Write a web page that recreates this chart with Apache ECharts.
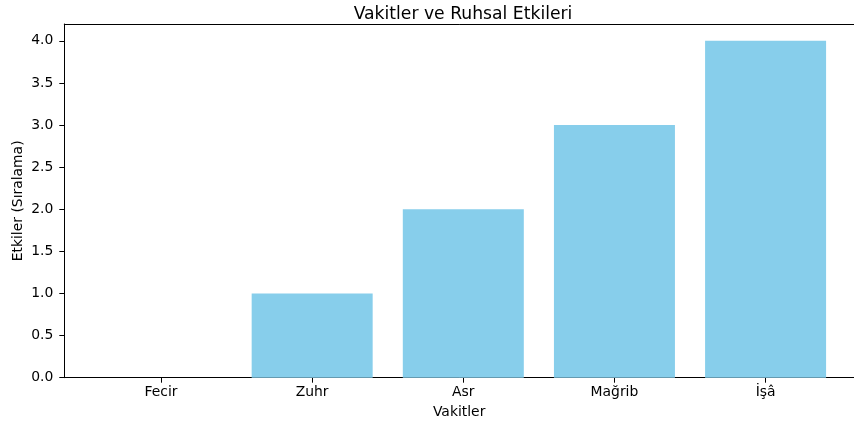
<!DOCTYPE html>
<html>
<head>
<meta charset="utf-8">
<script src="https://cdn.jsdelivr.net/npm/echarts@6/dist/echarts.min.js"></script>
<style>
html,body{margin:0;padding:0;background:#fff;}
#chart{width:854px;height:426px;}
</style>
</head>
<body>
<div id="chart"></div>
<script>
var categories = ['Fecir', 'Zuhr', 'Asr', 'Mağrib', 'İşâ'];
var values = [0, 1, 2, 3, 4];
var yTicks = [0, 0.5, 1.0, 1.5, 2.0, 2.5, 3.0, 3.5, 4.0];
var xTicks = [0, 1, 2, 3, 4];
var titleText = 'Vakitler ve Ruhsal Etkileri';
var xName = 'Vakitler';
var yName = 'Etkiler (Sıralama)';

var FONT = 'DejaVu Sans';
var X_MIN = -0.64, X_MAX = 4.585;
var chart = echarts.init(document.getElementById('chart'), null, {renderer: 'canvas'});
chart.setOption({
  animation: false,
  backgroundColor: '#fff',
  title: {
    text: titleText,
    left: 458,
    top: 1,
    textAlign: 'center',
    textStyle: {fontFamily: FONT, fontSize: 17.2, fontWeight: 'normal', color: '#000'}
  },
  grid: {
    left: 64.3, top: 24, right: 0, bottom: 48.3,
    show: false
  },
  xAxis: [{
    type: 'value',
    min: X_MIN, max: X_MAX,
    name: xName,
    nameLocation: 'middle',
    nameGap: 28,
    nameMoveOverlap: false,
    nameTextStyle: {fontFamily: FONT, fontSize: 13.9, color: '#000'},
    axisLine: {show: true, onZero: false, lineStyle: {color: '#000', width: 1}},
    axisTick: {show: true, length: 5, customValues: xTicks, lineStyle: {color: '#000', width: 1}},
    axisLabel: {
      customValues: xTicks,
      margin: 8,
      fontFamily: FONT, fontSize: 13.9, color: '#000',
      formatter: function (v) { return categories[Math.round(v)] || ''; }
    },
    splitLine: {show: false}
  }, {
    type: 'value',
    position: 'top',
    min: X_MIN, max: X_MAX,
    axisLine: {show: true, onZero: false, lineStyle: {color: '#000', width: 1}},
    axisTick: {show: false},
    axisLabel: {show: false},
    splitLine: {show: false}
  }],
  yAxis: {
    type: 'value',
    min: 0, max: 4.2,
    name: yName,
    nameLocation: 'middle',
    nameGap: 39,
    nameMoveOverlap: false,
    nameTextStyle: {fontFamily: FONT, fontSize: 13.9, color: '#000'},
    axisLine: {show: true, onZero: false, lineStyle: {color: '#000', width: 1}},
    axisTick: {show: true, length: 5, customValues: yTicks, lineStyle: {color: '#000', width: 1}},
    axisLabel: {
      customValues: yTicks,
      margin: 11,
      fontFamily: FONT, fontSize: 13.9, color: '#000',
      formatter: function (v) { return v.toFixed(1); }
    },
    splitLine: {show: false}
  },
  series: [{
    type: 'bar',
    xAxisIndex: 0,
    barWidth: 121,
    itemStyle: {color: '#87CEEB'},
    data: categories.map(function (c, i) { return [i, values[i]]; })
  }]
});
</script>
</body>
</html>
